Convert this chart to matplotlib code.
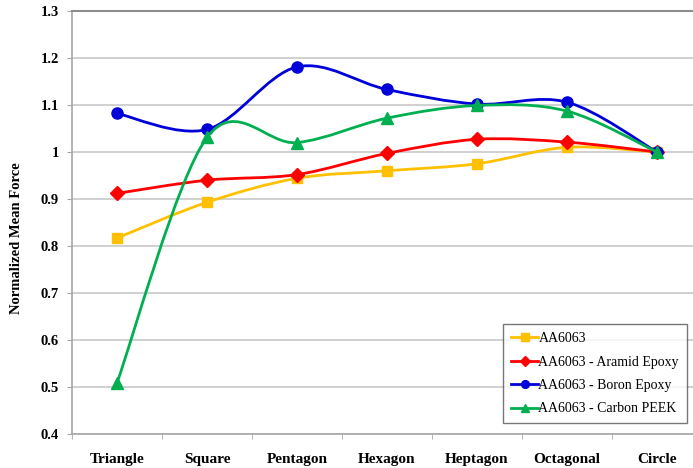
import numpy as np
import matplotlib
matplotlib.use("Agg")
import matplotlib.pyplot as plt
from matplotlib.path import Path
import matplotlib.patches as mpatches
from matplotlib.lines import Line2D

# data
shapes = ["Triangle", "Square", "Pentagon", "Hexagon", "Heptagon", "Octagonal", "Circle"]
aa6063 = [0.817, 0.893, 0.944, 0.960, 0.975, 1.010, 1.000]
aramid_epoxy = [0.912, 0.940, 0.952, 0.997, 1.027, 1.021, 1.000]
boron_epoxy = [1.082, 1.048, 1.181, 1.133, 1.102, 1.106, 1.000]
carbon_peek = [0.509, 1.031, 1.020, 1.072, 1.099, 1.087, 1.000]

series_names = ["AA6063", "AA6063 - Aramid Epoxy", "AA6063 - Boron Epoxy", "AA6063 - Carbon PEEK"]

plt.rcParams['font.family'] = ['Liberation Serif', 'DejaVu Serif']


def smooth_path(xs, ys):
    # Excel-like smoothed line: cubic bezier through the points
    pts = np.column_stack([xs, ys]).astype(float)
    n = len(pts)
    verts = [pts[0]]
    codes = [Path.MOVETO]
    for i in range(n - 1):
        p0 = pts[i - 1] if i > 0 else pts[i]
        p1 = pts[i]
        p2 = pts[i + 1]
        p3 = pts[i + 2] if i + 2 < n else pts[i + 1]
        c1 = p1 + (p2 - p0) / 6
        c2 = p2 - (p3 - p1) / 6
        verts += [c1, c2, p2]
        codes += [Path.CURVE4] * 3
    return Path(verts, codes)


styles = [
    dict(color="#FFC000", marker="s", ms=7.5),
    dict(color="#FF0000", marker="D", ms=7),
    dict(color="#0000D8", marker="o", ms=8),
    dict(color="#00B050", marker="^", ms=8.5),
]
all_series = [aa6063, aramid_epoxy, boron_epoxy, carbon_peek]

fig = plt.figure(figsize=(6.93, 4.68), dpi=100)
ax = fig.add_axes([72 / 693, 34 / 468, 630 / 693, 423 / 468])

x = np.arange(len(shapes))
handles = []
for i, (vals, st, name) in enumerate(zip(all_series, styles, series_names)):
    patch = mpatches.PathPatch(smooth_path(x, vals), fill=False,
                               edgecolor=st["color"], linewidth=2.0,
                               zorder=3 + i, capstyle="round", joinstyle="round")
    ax.add_patch(patch)
    ax.plot(x, vals, linestyle="none", marker=st["marker"], ms=st["ms"],
            color=st["color"], mec=st["color"], zorder=3 + i)
    handles.append(Line2D([], [], color=st["color"], lw=2.0, marker=st["marker"],
                          ms=st["ms"] * 0.7, label=name))

ax.set_xlim(-0.5, len(shapes) - 0.5)
ax.set_ylim(0.4, 1.3)
ax.set_yticks(np.arange(0.4, 1.31, 0.1))
ax.set_yticklabels(["0.4", "0.5", "0.6", "0.7", "0.8", "0.9", "1", "1.1", "1.2", "1.3"],
                   fontsize=10.5, fontweight="bold")
ax.set_xticks(x)
ax.set_xticklabels(shapes, fontsize=11, fontweight="bold")
ax.set_xticks(np.arange(-0.5, len(shapes), 1.0), minor=True)
ax.tick_params(axis="x", which="major", length=0, pad=14)
ax.tick_params(axis="x", which="minor", length=3.5, color="#A6A6A6", direction="out")
ax.tick_params(axis="y", length=3.5, color="#A6A6A6", pad=6)

ax.grid(axis="y", color="#C8C8C8", linewidth=1.2)
ax.set_axisbelow(True)
for side in ["left", "bottom"]:
    ax.spines[side].set_color("#A6A6A6")
    ax.spines[side].set_linewidth(1.2)
ax.spines["top"].set_color("#8C8C8C")
ax.spines["top"].set_linewidth(1.5)
ax.spines["right"].set_visible(False)

fig.text(17 / 693, (468 - 238) / 468, "Normalized Mean Force", rotation=90,
         ha="center", va="center", fontsize=10.5, fontweight="bold")

leg = ax.legend(handles=handles, loc="lower left",
                bbox_to_anchor=(503 / 693, (468 - 423) / 468), bbox_transform=fig.transFigure,
                fontsize=10, frameon=True, fancybox=False, handlelength=2.0,
                handletextpad=0.0, labelspacing=0.75, borderpad=0.55, borderaxespad=0)
leg.get_frame().set_edgecolor("#555555")
leg.get_frame().set_linewidth(1.0)

fig.savefig("out.png", dpi=100, facecolor="white")
